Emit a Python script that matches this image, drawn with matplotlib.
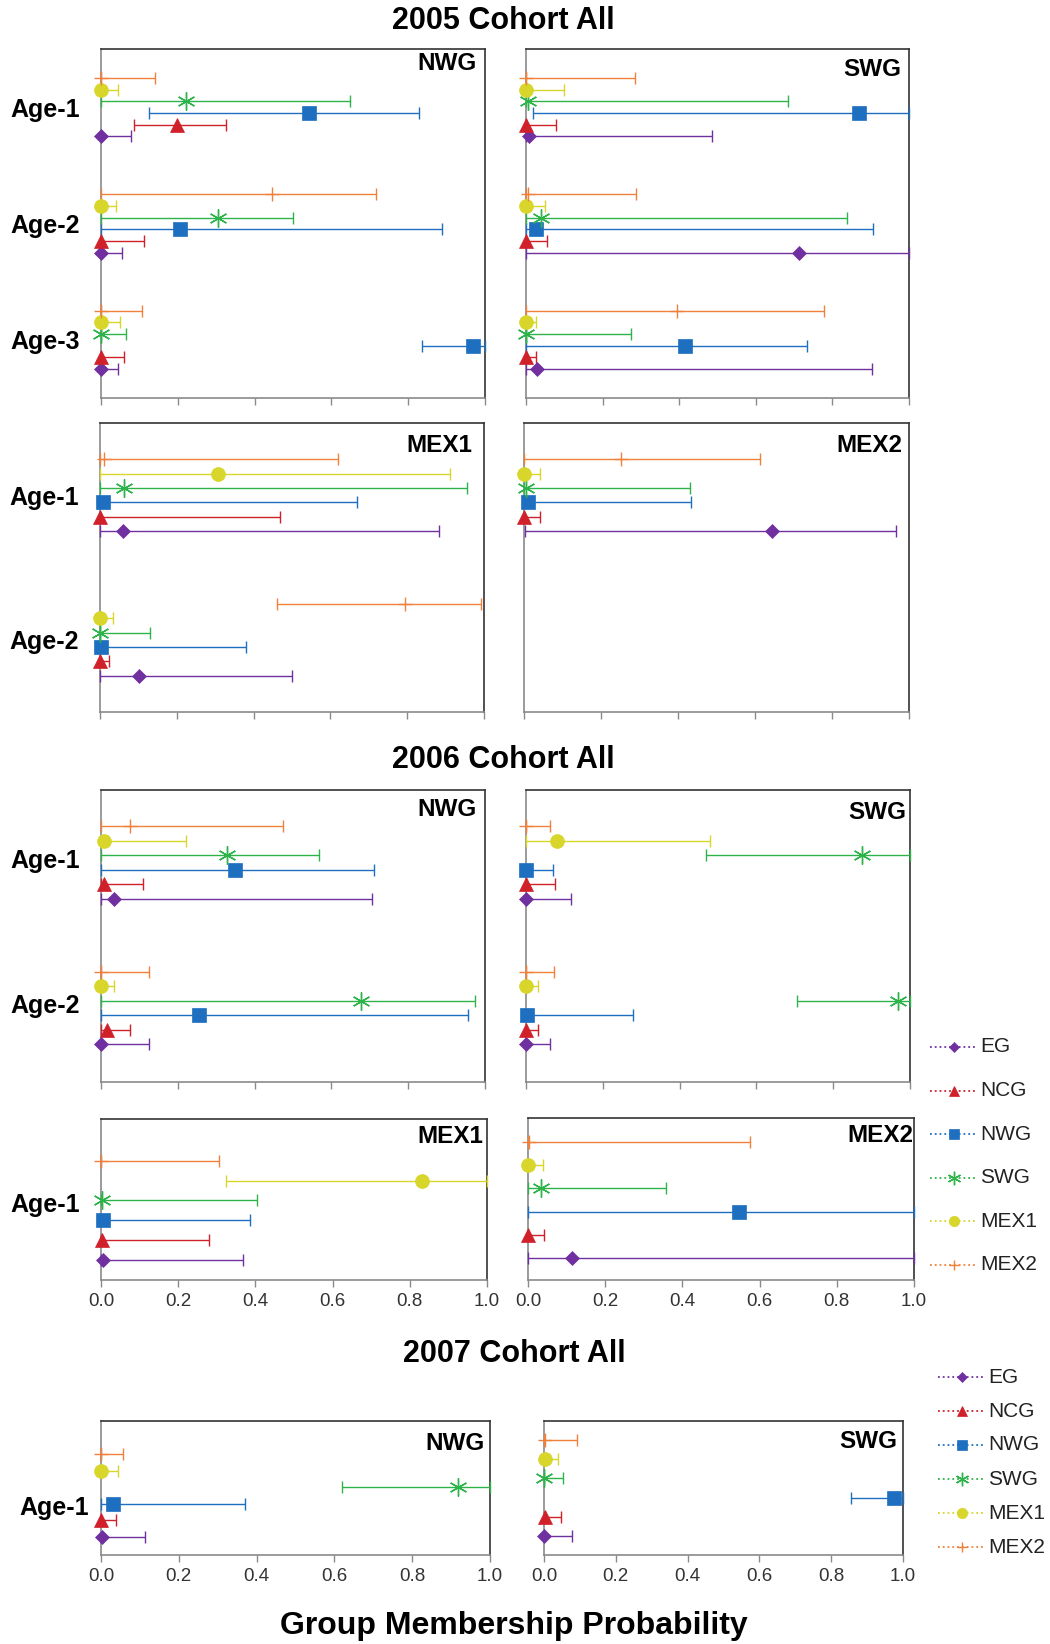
"""Group membership probability panels (2005-2007 cohorts), recreated with matplotlib."""
import matplotlib
matplotlib.use("Agg")  # headless
import matplotlib.pyplot as plt  # noqa: E402
from matplotlib.lines import Line2D  # noqa: E402

plt.rcParams["font.family"] = ["Liberation Sans", "DejaVu Sans"]

W, H = 1050, 1644  # output size in pixels (dpi 100)

# series order inside every age group: EG, NCG, NWG, SWG, MEX1, MEX2
GROUPS = ["EG", "NCG", "NWG", "SWG", "MEX1", "MEX2"]
AGES_3 = ["Age-1", "Age-2", "Age-3"]
AGES_2 = ["Age-1", "Age-2"]
AGES_1 = ["Age-1"]
TICKS = [0.0, 0.2, 0.4, 0.6, 0.8, 1.0]

# ---- 2005 cohort ----------------------------------------------------------
c05_nwg_pt = [[0.0, 0.198, 0.542, 0.221, 0.0, 0.0],
              [0.0, 0.0, 0.206, 0.305, 0.0, 0.445],
              [0.0, 0.0, 0.970, 0.0, 0.0, 0.0]]
c05_nwg_lo = [[0.0, 0.085, 0.125, 0.0, 0.0, 0.0],
              [0.0, 0.0, 0.0, 0.0, 0.0, 0.0],
              [0.0, 0.0, 0.835, 0.0, 0.0, 0.0]]
c05_nwg_hi = [[0.078, 0.326, 0.828, 0.649, 0.043, 0.140],
              [0.055, 0.113, 0.888, 0.499, 0.040, 0.716],
              [0.044, 0.059, 1.0, 0.065, 0.050, 0.106]]

c05_swg_pt = [[0.009, 0.0, 0.870, 0.004, 0.0, 0.0],
              [0.712, 0.0, 0.027, 0.039, 0.0, 0.005],
              [0.029, 0.0, 0.415, 0.0, 0.0, 0.394]]
c05_swg_lo = [[0.0, 0.0, 0.017, 0.0, 0.0, 0.0],
              [0.0, 0.0, 0.0, 0.0, 0.0, 0.0],
              [0.0, 0.0, 0.0, 0.0, 0.0, 0.0]]
c05_swg_hi = [[0.486, 0.078, 1.0, 0.683, 0.100, 0.285],
              [1.0, 0.055, 0.907, 0.837, 0.050, 0.288],
              [0.903, 0.026, 0.733, 0.275, 0.025, 0.778]]

c05_mex1_pt = [[0.061, 0.0, 0.007, 0.062, 0.307, 0.010],
               [0.101, 0.0, 0.003, 0.0, 0.0, 0.793]]
c05_mex1_lo = [[0.0, 0.0, 0.0, 0.0, 0.0, 0.0],
               [0.0, 0.0, 0.0, 0.0, 0.0, 0.461]]
c05_mex1_hi = [[0.884, 0.468, 0.670, 0.956, 0.912, 0.620],
               [0.499, 0.023, 0.380, 0.129, 0.035, 0.993]]

c05_mex2_pt = [[0.643, 0.0, 0.010, 0.005, 0.0, 0.251]]
c05_mex2_lo = [[0.003, 0.0, 0.0, 0.0, 0.0, 0.0]]
c05_mex2_hi = [[0.965, 0.042, 0.434, 0.431, 0.042, 0.614]]

# ---- 2006 cohort ----------------------------------------------------------
c06_nwg_pt = [[0.035, 0.009, 0.350, 0.329, 0.007, 0.075],
              [0.0, 0.016, 0.255, 0.677, 0.0, 0.0]]
c06_nwg_lo = [[0.0, 0.0, 0.0, 0.0, 0.0, 0.0],
              [0.0, 0.0, 0.0, 0.0, 0.0, 0.0]]
c06_nwg_hi = [[0.705, 0.109, 0.712, 0.567, 0.221, 0.473],
              [0.125, 0.075, 0.957, 0.973, 0.035, 0.126]]

c06_swg_pt = [[0.0, 0.0, 0.0, 0.874, 0.081, 0.0],
              [0.0, 0.0, 0.003, 0.968, 0.0, 0.0]]
c06_swg_lo = [[0.0, 0.0, 0.0, 0.468, 0.0, 0.0],
              [0.0, 0.0, 0.0, 0.705, 0.0, 0.0]]
c06_swg_hi = [[0.116, 0.075, 0.070, 1.0, 0.478, 0.062],
              [0.062, 0.030, 0.278, 1.0, 0.030, 0.072]]

c06_mex1_pt = [[0.005, 0.003, 0.004, 0.003, 0.832, 0.0]]
c06_mex1_lo = [[0.0, 0.0, 0.0, 0.0, 0.324, 0.0]]
c06_mex1_hi = [[0.367, 0.280, 0.387, 0.403, 1.0, 0.306]]

c06_mex2_pt = [[0.114, 0.0, 0.547, 0.034, 0.0, 0.003]]
c06_mex2_lo = [[0.0, 0.0, 0.0, 0.0, 0.0, 0.0]]
c06_mex2_hi = [[1.0, 0.041, 1.0, 0.357, 0.038, 0.575]]

# ---- 2007 cohort ----------------------------------------------------------
c07_nwg_pt = [[0.003, 0.0, 0.031, 0.919, 0.0, 0.0]]
c07_nwg_lo = [[0.0, 0.0, 0.0, 0.620, 0.0, 0.0]]
c07_nwg_hi = [[0.112, 0.038, 0.371, 1.0, 0.043, 0.057]]

c07_swg_pt = [[0.0, 0.003, 0.974, 0.0, 0.002, 0.004]]
c07_swg_lo = [[0.0, 0.0, 0.856, 0.0, 0.0, 0.0]]
c07_swg_hi = [[0.078, 0.046, 1.0, 0.053, 0.038, 0.093]]

# ---- styling --------------------------------------------------------------
COLORS = ["#7030A0", "#D0202A", "#1F6FC1", "#2DB34A", "#D8D62A", "#F0803A"]
MARKERS = ["D", "^", "s", (6, 2, 0), "o", "+"]
MSIZES = [7, 10, 10, 13, 10, 10]
OFFSETS = [0.25, 0.15, 0.05, -0.05, -0.15, -0.25]
AXIS_GREY = "#8a8a8a"
FRAME = "#333333"


def px_rect(left, top, right, bottom):
    """Pixel box (origin top-left) -> figure-fraction rect."""
    return [left / W, 1 - bottom / H, (right - left) / W, (bottom - top) / H]


def is_line_marker(m):
    return m in ("+", (6, 2, 0))


def draw_panel(fig, box, pts, lo, hi, label, ylim, ages, ticklabels, lab_off,
               age_shift=0.0, age_pad=15):
    ax = fig.add_axes(px_rect(*box))
    for gi in range(len(pts)):
        for si in range(len(GROUPS)):
            p, l, h = pts[gi][si], lo[gi][si], hi[gi][si]
            y = gi + OFFSETS[si]
            cont = ax.errorbar(
                p, y, xerr=[[p - l], [h - p]], fmt="none",
                ecolor=COLORS[si], elinewidth=1.0, capsize=4, capthick=1.0,
                zorder=3,
            )
            for art in cont.get_children():
                art.set_clip_on(False)
            ax.plot(p, y, ls="none", marker=MARKERS[si], ms=MSIZES[si],
                    color=COLORS[si],
                    mew=1.0 if is_line_marker(MARKERS[si]) else 0.5,
                    zorder=4, clip_on=False)
    ax.set_xlim(0, 1)
    ax.set_ylim(*ylim)
    ax.set_xticks(TICKS)
    if ticklabels:
        ax.set_xticklabels([f"{t:.1f}" for t in TICKS])
    ax.tick_params(axis="x", direction="out", length=5, width=1,
                   color=AXIS_GREY, labelsize=13.5, labelcolor="#333333",
                   pad=4, labelbottom=ticklabels)
    if ages:
        ax.set_yticks([i + age_shift for i in range(len(ages))])
        ax.set_yticklabels(ages, fontsize=18, fontweight="bold")
        ax.tick_params(axis="y", length=0, pad=age_pad)
    else:
        ax.set_yticks([])
    for side in ("left", "bottom"):
        ax.spines[side].set_color(AXIS_GREY)
        ax.spines[side].set_linewidth(1.2)
    for side in ("top", "right"):
        ax.spines[side].set_color(FRAME)
        ax.spines[side].set_linewidth(1.2)
    ax.annotate(label, xy=(1, 1), xycoords="axes fraction",
                xytext=(-lab_off[0], -lab_off[1]), textcoords="offset pixels",
                ha="right", va="center", fontsize=17.5, fontweight="bold")
    return ax


def draw_legend(fig, y0, dy, x0, x1, xt):
    for i, name in enumerate(GROUPS):
        y = 1 - (y0 + i * dy) / H
        fig.add_artist(Line2D([x0 / W, x1 / W], [y, y], ls=":", lw=1.3,
                              color=COLORS[i]))
        fig.add_artist(Line2D([(x0 + x1) / 2 / W], [y], ls="none",
                              marker=MARKERS[i], ms=MSIZES[i] * 0.75,
                              mew=1.0 if is_line_marker(MARKERS[i]) else 0.5,
                              color=COLORS[i]))
        fig.text(xt / W, y, name, ha="left", va="center", fontsize=15,
                 color="#222222")


fig = plt.figure(figsize=(W / 100, H / 100), dpi=100)

# 2005
draw_panel(fig, (101, 49, 485, 398), c05_nwg_pt, c05_nwg_lo, c05_nwg_hi,
           "NWG", (2.5, -0.5), AGES_3, False, (8, 15))
draw_panel(fig, (526, 49, 909, 398), c05_swg_pt, c05_swg_lo, c05_swg_hi,
           "SWG", (2.5, -0.5), None, False, (8, 20))
draw_panel(fig, (100, 423, 484, 712), c05_mex1_pt, c05_mex1_lo, c05_mex1_hi,
           "MEX1", (1.5, -0.5), AGES_2, False, (12, 23))
draw_panel(fig, (524, 423, 909, 712), c05_mex2_pt, c05_mex2_lo, c05_mex2_hi,
           "MEX2", (1.5, -0.5), None, False, (7, 23))
# 2006
draw_panel(fig, (101, 790, 485, 1082), c06_nwg_pt, c06_nwg_lo, c06_nwg_hi,
           "NWG", (1.51, -0.5), AGES_2, False, (8, 19), age_shift=-0.03)
draw_panel(fig, (526, 790, 910, 1082), c06_swg_pt, c06_swg_lo, c06_swg_hi,
           "SWG", (1.51, -0.5), None, False, (4, 22))
draw_panel(fig, (101, 1119, 487, 1280), c06_mex1_pt, c06_mex1_lo, c06_mex1_hi,
           "MEX1", (0.35, -0.46), AGES_1, True, (4, 17), age_shift=-0.04)
draw_panel(fig, (528, 1118, 914, 1280), c06_mex2_pt, c06_mex2_lo, c06_mex2_hi,
           "MEX2", (0.345, -0.354), None, True, (1, 17))
# 2007
draw_panel(fig, (101, 1421, 490, 1555), c07_nwg_pt, c07_nwg_lo, c07_nwg_hi,
           "NWG", (0.36, -0.45), AGES_1, True, (5, 22), age_shift=0.06,
           age_pad=9)
draw_panel(fig, (544, 1421, 903, 1555), c07_swg_pt, c07_swg_lo, c07_swg_hi,
           "SWG", (0.35, -0.35), None, True, (6, 20))

for txt, x, y in [("2005 Cohort All", 503, 21), ("2006 Cohort All", 503, 760),
                  ("2007 Cohort All", 514, 1354)]:
    fig.text(x / W, 1 - y / H, txt, ha="center", va="center",
             fontsize=22, fontweight="bold")
fig.text(514 / W, 1 - 1626 / H, "Group Membership Probability",
         ha="center", va="center", fontsize=23, fontweight="bold")

draw_legend(fig, 1047, 43.6, 930, 977, 980)
draw_legend(fig, 1377, 34.0, 938, 985, 988)

fig.savefig("out.png", dpi=100)
plt.close(fig)
